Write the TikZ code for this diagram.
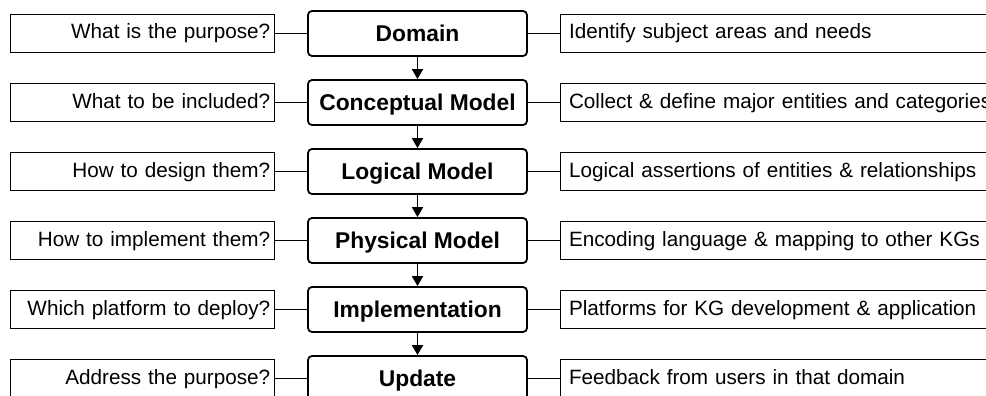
\documentclass[tikz,border=0pt]{standalone}
\usepackage{fontspec}
\setmainfont{Liberation Sans}
\usetikzlibrary{arrows.meta}
\begin{document}
\begin{tikzpicture}[x=1pt,y=-1pt,
  stage/.style={draw, line width=1.8pt, rounded corners=4pt, minimum width=219pt, minimum height=45pt, inner sep=0pt, text height=18pt, text depth=2pt, font=\fontsize{22.8}{26}\selectfont\bfseries},
  ques/.style={draw, line width=1pt, minimum height=38pt, text width=256pt, inner sep=4pt, minimum width=264.5pt, align=right, text height=14.5pt, text depth=3.5pt, font=\fontsize{20.7}{24}\selectfont},
  desc/.style={draw, line width=1pt, minimum height=38pt, text width=520pt, inner sep=8.5pt, align=left, anchor=west, text height=14.5pt, text depth=3.5pt, font=\fontsize{20.7}{24}\selectfont},
  link/.style={line width=1pt},
  flow/.style={line width=1.8pt, -{Triangle[width=11pt,length=10pt]}}
]
\useasboundingbox (0,0) rectangle (986,396);
\clip (0,0) rectangle (986,396);
\foreach \n/\y/\s/\q/\d in {
  a/33.5/Domain/What is the purpose?/Identify subject areas and needs,
  b/102.5/Conceptual Model/What to be included?/Collect \& define major entities and categories,
  c/171.5/Logical Model/How to design them?/Logical assertions of entities \& relationships,
  d/240.5/Physical Model/How to implement them?/Encoding language \& mapping to other KGs,
  e/309.5/Implementation/Which platform to deploy?/Platforms for KG development \& application,
  f/378.5/Update/Address the purpose?/Feedback from users in that domain}
{
  \node[stage] (\n) at (417.5,\y) {\s};
  \node[ques] (\n q) at (142.25,\y) {\q};
  \node[desc] (\n d) at (560,\y) {\d};
  \draw[link] (\n q) -- (\n);
  \draw[link] (\n) -- (\n d);
}
\draw[flow] (a) -- (b);
\draw[flow] (b) -- (c);
\draw[flow] (c) -- (d);
\draw[flow] (d) -- (e);
\draw[flow] (e) -- (f);
\end{tikzpicture}
\end{document}
